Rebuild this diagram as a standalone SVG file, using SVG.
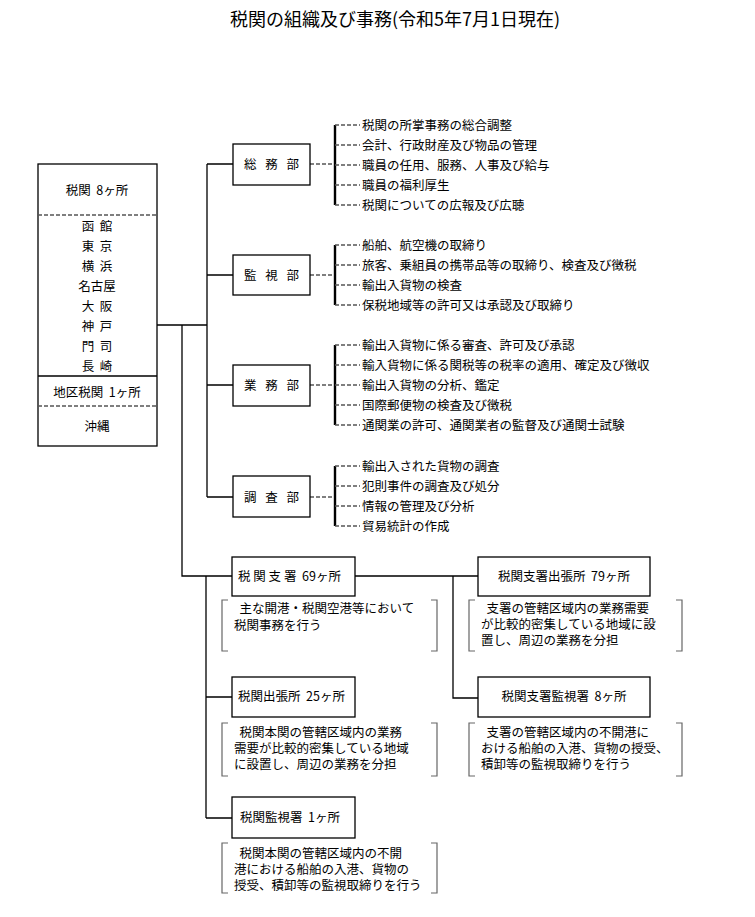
<svg xmlns="http://www.w3.org/2000/svg" width="755" height="917" viewBox="0 0 755 917">
<style>
text{font-family:"Noto Sans CJK JP","Liberation Sans",sans-serif;font-size:12.5px;fill:#000;white-space:pre}
.t{font-size:18px}
.q{font-size:12.5px}
.dp{letter-spacing:3px}
.b{fill:#fff;stroke:#000;stroke-width:1.3}
.s{stroke:#000;stroke-width:1.3;fill:none}
.d{stroke:#555;stroke-width:1.6;stroke-dasharray:4,2;fill:none}
.k{stroke:#000;stroke-width:2.4;fill:none}
.br{stroke:#666;stroke-width:1.2;fill:none}
.m{text-anchor:middle}
</style>
<rect width="755" height="917" fill="#fff"/>
<text class="t m" x="395" y="26">税関の組織及び事務(令和5年7月1日現在)</text>
<g id="connectors">
<path class="s" d="M157 325H207M207 164V497M207 164H233M207 275H233M207 385H233M207 497H233M182 325V576H232M206 576V818M206 697H232M206 818H232M355 576H478M453 576V698H478"/>
<path class="d" d="M310 164H335M310 275H335M310 385H335M310 497H335"/>
<path class="k" d="M335 125V205M335 245V305M335 345V425M335 466V526"/>
<path class="d" d="M335 125H360M335 145H360M335 165H360M335 185H360M335 205H360M335 245H360M335 265H360M335 285H360M335 305H360M335 345H360M335 365H360M335 385H360M335 405H360M335 425H360M335 466H360M335 486H360M335 506H360M335 526H360"/>
</g>
<g id="honkan">
<rect class="b" x="38" y="164" width="119" height="282"/>
<path class="d" d="M38 215H157M38 406H157"/>
<path class="s" d="M38 376H157"/>
<text class="m" x="97" y="195">税関  8ヶ所</text>
<text class="m" x="97" y="231">函  館</text>
<text class="m" x="97" y="251">東  京</text>
<text class="m" x="97" y="271">横  浜</text>
<text class="m" x="97" y="291">名古屋</text>
<text class="m" x="97" y="311">大  阪</text>
<text class="m" x="97" y="331">神  戸</text>
<text class="m" x="97" y="351">門  司</text>
<text class="m" x="97" y="371">長  崎</text>
<text class="m" x="97" y="397">地区税関  1ヶ所</text>
<text class="m" x="97" y="431">沖縄</text>
</g>
<g id="somu">
<rect class="b" x="233" y="144" width="77" height="41"/>
<text class="m dp" x="273" y="169">総 務 部</text>
<text x="362" y="130">税関の所掌事務の総合調整</text>
<text x="362" y="150">会計、行政財産及び物品の管理</text>
<text x="362" y="170">職員の任用、服務、人事及び給与</text>
<text x="362" y="190">職員の福利厚生</text>
<text x="362" y="210">税関についての広報及び広聴</text>
</g>
<g id="kanshi">
<rect class="b" x="233" y="255" width="77" height="40"/>
<text class="m dp" x="273" y="280">監 視 部</text>
<text x="362" y="250">船舶、航空機の取締り</text>
<text x="362" y="270">旅客、乗組員の携帯品等の取締り、検査及び徴税</text>
<text x="362" y="290">輸出入貨物の検査</text>
<text x="362" y="310">保税地域等の許可又は承認及び取締り</text>
</g>
<g id="gyomu">
<rect class="b" x="233" y="365" width="77" height="41"/>
<text class="m dp" x="273" y="390">業 務 部</text>
<text x="362" y="350">輸出入貨物に係る審査、許可及び承認</text>
<text x="362" y="370">輸入貨物に係る関税等の税率の適用、確定及び徴収</text>
<text x="362" y="390">輸出入貨物の分析、鑑定</text>
<text x="362" y="410">国際郵便物の検査及び徴税</text>
<text x="362" y="430">通関業の許可、通関業者の監督及び通関士試験</text>
</g>
<g id="chosa">
<rect class="b" x="233" y="476" width="77" height="41"/>
<text class="m dp" x="273" y="502">調 査 部</text>
<text x="362" y="471">輸出入された貨物の調査</text>
<text x="362" y="491">犯則事件の調査及び処分</text>
<text x="362" y="511">情報の管理及び分析</text>
<text x="362" y="531">貿易統計の作成</text>
</g>
<g id="shisho">
<rect class="b" x="232" y="557" width="123" height="39"/>
<text x="238" y="581">税 関 支 署  69ヶ所</text>
<path class="br" d="M228 600H222V651H228M431 600H437V651H431"/>
<text class="q" x="234" y="613">  主な開港・税関空港等において</text>
<text class="q" x="234" y="630">税関事務を行う</text>
</g>
<g id="shutchojo">
<rect class="b" x="232" y="677" width="123" height="40"/>
<text x="238" y="701">税関出張所  25ヶ所</text>
<path class="br" d="M228 723H222V776H228M431 723H437V776H431"/>
<text class="q" x="234" y="737">  税関本関の管轄区域内の業務</text>
<text class="q" x="234" y="753">需要が比較的密集している地域</text>
<text class="q" x="234" y="769">に設置し、周辺の業務を分担</text>
</g>
<g id="kanshisho">
<rect class="b" x="232" y="797" width="123" height="41"/>
<text x="240" y="822">税関監視署  1ヶ所</text>
<path class="br" d="M228 843H222V893H228M431 843H437V893H431"/>
<text class="q" x="234" y="858">  税関本関の管轄区域内の不開</text>
<text class="q" x="234" y="874">港における船舶の入港、貨物の</text>
<text class="q" x="234" y="890">授受、積卸等の監視取締りを行う</text>
</g>
<g id="shisho-shutchojo">
<rect class="b" x="478" y="557" width="172" height="39"/>
<text class="m" x="564" y="581">税関支署出張所  79ヶ所</text>
<path class="br" d="M475 600H469V651H475M676 600H682V651H676"/>
<text class="q" x="481" y="613">  支署の管轄区域内の業務需要</text>
<text class="q" x="481" y="629">が比較的密集している地域に設</text>
<text class="q" x="481" y="645">置し、周辺の業務を分担</text>
</g>
<g id="shisho-kanshisho">
<rect class="b" x="478" y="677" width="172" height="40"/>
<text class="m" x="564" y="701">税関支署監視署  8ヶ所</text>
<path class="br" d="M475 723H469V776H475M676 723H682V776H676"/>
<text class="q" x="481" y="737">  支署の管轄区域内の不開港に</text>
<text class="q" x="481" y="753">おける船舶の入港、貨物の授受、</text>
<text class="q" x="481" y="769">積卸等の監視取締りを行う</text>
</g>
</svg>
